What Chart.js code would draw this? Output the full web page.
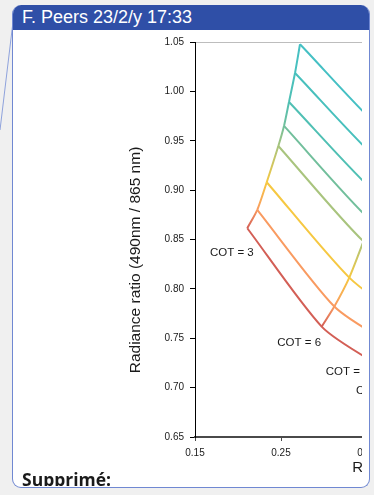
<!DOCTYPE html>
<html>
<head>
<meta charset="utf-8">
<script src="https://cdn.jsdelivr.net/npm/chart.js@4.4.1/dist/chart.umd.min.js"></script>
<style>
  html, body { margin: 0; padding: 0; width: 374px; height: 495px; overflow: hidden; background: #f0f0f0; font-family: "Liberation Sans", Arial, sans-serif; }
  #link { position: absolute; left: 0; top: 0; }
  #note { position: absolute; left: 12px; top: 5px; width: 356px; height: 482px; background: #fff;
          border: 1px solid #7088d2; border-top: none; border-radius: 9px; overflow: hidden; }
  #head { height: 25px; background: #2f4fa7; color: #fff; font-size: 18px; line-height: 25px; padding-left: 9px; white-space: nowrap; }
  #plot { position: absolute; left: 0; top: 25px; width: 349px; height: 456px; overflow: hidden; }
  #plot canvas { position: absolute; left: 0; top: 0; }
  #deleted { position: absolute; left: 9px; top: 438.7px; font-family: "Open Sans", sans-serif; font-weight: 700;
             font-size: 17.5px; line-height: 20px; color: #1a1a1a; white-space: nowrap; }
</style>
</head>
<body>
<svg id="link" width="20" height="140"><line x1="12.5" y1="26" x2="0" y2="130" stroke="#8ea2dc" stroke-width="1"/></svg>
<div id="note">
  <div id="head">F. Peers 23/2/y 17:33</div>
  <div id="plot">
    <canvas id="c" width="660" height="457"></canvas>
    <div id="deleted">Supprimé:</div>
  </div>
</div>
<script>
// Axis ticks
const xTicks = [0.15, 0.25, 0.35, 0.45, 0.55, 0.65];
const yTicks = [0.65, 0.70, 0.75, 0.80, 0.85, 0.90, 0.95, 1.00, 1.05];

// Cloud optical thickness levels sampled along every size curve
const cotLevels = [3, 6, 9, 12];

// Reflectance (865 nm) for each size curve, one value per COT level
const reflectance = [
  [0.2108, 0.2973, 0.3535, 0.3953],
  [0.2224, 0.3120, 0.3698, 0.4116],
  [0.2334, 0.3294, 0.3884, 0.4326],
  [0.2469, 0.3459, 0.4093, 0.4558],
  [0.2535, 0.3547, 0.4233, 0.4721],
  [0.2593, 0.3645, 0.4372, 0.4884],
  [0.2663, 0.3721, 0.4488, 0.5023],
  [0.2721, 0.3779, 0.4581, 0.5140]
];

// Radiance ratio 490/865 for each size curve, one value per COT level
const ratio = [
  [0.8614, 0.7618, 0.7281, 0.7109],
  [0.8800, 0.7821, 0.7484, 0.7312],
  [0.9080, 0.8114, 0.7737, 0.7555],
  [0.9447, 0.8481, 0.8091, 0.7899],
  [0.9650, 0.8688, 0.8273, 0.8071],
  [0.9893, 0.8931, 0.8496, 0.8283],
  [1.0186, 0.9225, 0.8779, 0.8557],
  [1.0477, 0.9518, 0.9063, 0.8840]
];

// COT annotations (text, anchored at its left edge)
const cotLabelText = cotLevels.map(c => 'COT = ' + c);
const cotLabelX = [0.1674, 0.2457, 0.3020, 0.3372];
const cotLabelY = [0.8367, 0.7457, 0.7157, 0.6971];

const yTitle = 'Radiance ratio (490nm / 865 nm)';
const xTitle = 'Reflectance at 865 nm';

// One colour per size curve
const curveColors = ['#d35f56', '#f99b61', '#f6c842', '#a9c47e', '#72bf9c', '#50c0b4', '#48c0bd', '#45c0c4'];

const FONT = '"Liberation Sans", Arial, sans-serif';
Chart.defaults.font.family = FONT;
Chart.defaults.font.size = 10;
Chart.defaults.color = '#1a1a1a';

const datasets = [];

// Constant-size curves
reflectance.forEach((row, i) => {
  datasets.push({
    data: row.map((r, j) => ({ x: r, y: ratio[i][j] })),
    borderColor: curveColors[i],
    borderWidth: 2,
    pointRadius: 0,
    tension: 0.25,
    fill: false
  });
});

// Constant-COT curves, shaded between the colours of the size curves they cross
cotLevels.forEach((c, j) => {
  datasets.push({
    data: reflectance.map((row, i) => ({ x: row[j], y: ratio[i][j] })),
    borderColor: curveColors[0],
    borderWidth: 2,
    pointRadius: 0,
    tension: 0.25,
    fill: false,
    segment: {
      borderColor: ctx => {
        const g = ctx.chart.ctx.createLinearGradient(ctx.p0.x, ctx.p0.y, ctx.p1.x, ctx.p1.y);
        g.addColorStop(0, curveColors[ctx.p0DataIndex]);
        g.addColorStop(1, curveColors[ctx.p1DataIndex]);
        return g;
      }
    }
  });
});

const annotations = {
  id: 'annotations',
  afterDraw(chart) {
    const { ctx, chartArea, scales: { x, y } } = chart;
    ctx.save();
    ctx.fillStyle = '#1a1a1a';
    ctx.font = '11.5px ' + FONT;
    ctx.textAlign = 'left';
    ctx.textBaseline = 'middle';
    cotLabelText.forEach((t, i) => {
      ctx.fillText(t, x.getPixelForValue(cotLabelX[i]), y.getPixelForValue(cotLabelY[i]));
    });
    // vertical axis title
    ctx.translate(122.5, (chartArea.top + chartArea.bottom) / 2 + 20.5);
    ctx.rotate(-Math.PI / 2);
    ctx.font = '15.5px ' + FONT;
    ctx.textAlign = 'center';
    ctx.fillText(yTitle, 0, 0);
    ctx.restore();
  }
};

new Chart(document.getElementById('c'), {
  type: 'line',
  data: { datasets },
  options: {
    responsive: false,
    devicePixelRatio: 1,
    animation: false,
    events: [],
    layout: { padding: { top: 12, right: 13.6, bottom: 0, left: 0 } },
    plugins: { legend: { display: false }, tooltip: { enabled: false } },
    scales: {
      x: {
        type: 'linear',
        min: 0.15,
        max: 0.69,
        afterBuildTicks: s => { s.ticks = xTicks.map(v => ({ value: v })); },
        afterFit: s => { s.height = 50; },
        ticks: { padding: 6, autoSkip: false, maxRotation: 0, callback: v => Number(v).toFixed(2), font: { size: 10 } },
        grid: { drawOnChartArea: false, drawTicks: true, tickLength: 4, tickColor: '#4a4a4a', tickWidth: 1 },
        border: { display: true, color: '#4a4a4a', width: 2 },
        title: { display: true, text: xTitle, font: { size: 15, lineHeight: 1.2 }, padding: { top: 0, bottom: 10 }, color: '#1a1a1a' }
      },
      y: {
        type: 'linear',
        min: 0.65,
        max: 1.05,
        afterBuildTicks: s => { s.ticks = yTicks.map(v => ({ value: v })); },
        afterFit: s => { s.width = 182; },
        ticks: { padding: 6, autoSkip: false, callback: v => Number(v).toFixed(2), font: { size: 10 } },
        grid: {
          drawOnChartArea: true,
          drawTicks: true,
          tickLength: 5,
          tickColor: '#000',
          tickWidth: 1,
          lineWidth: 1,
          color: ctx => (ctx.tick && ctx.tick.value === 1.05) ? '#bdbdbd' : 'rgba(0,0,0,0)'
        },
        border: { display: true, color: '#000', width: 1 }
      }
    }
  },
  plugins: [annotations]
});
</script>
</body>
</html>
